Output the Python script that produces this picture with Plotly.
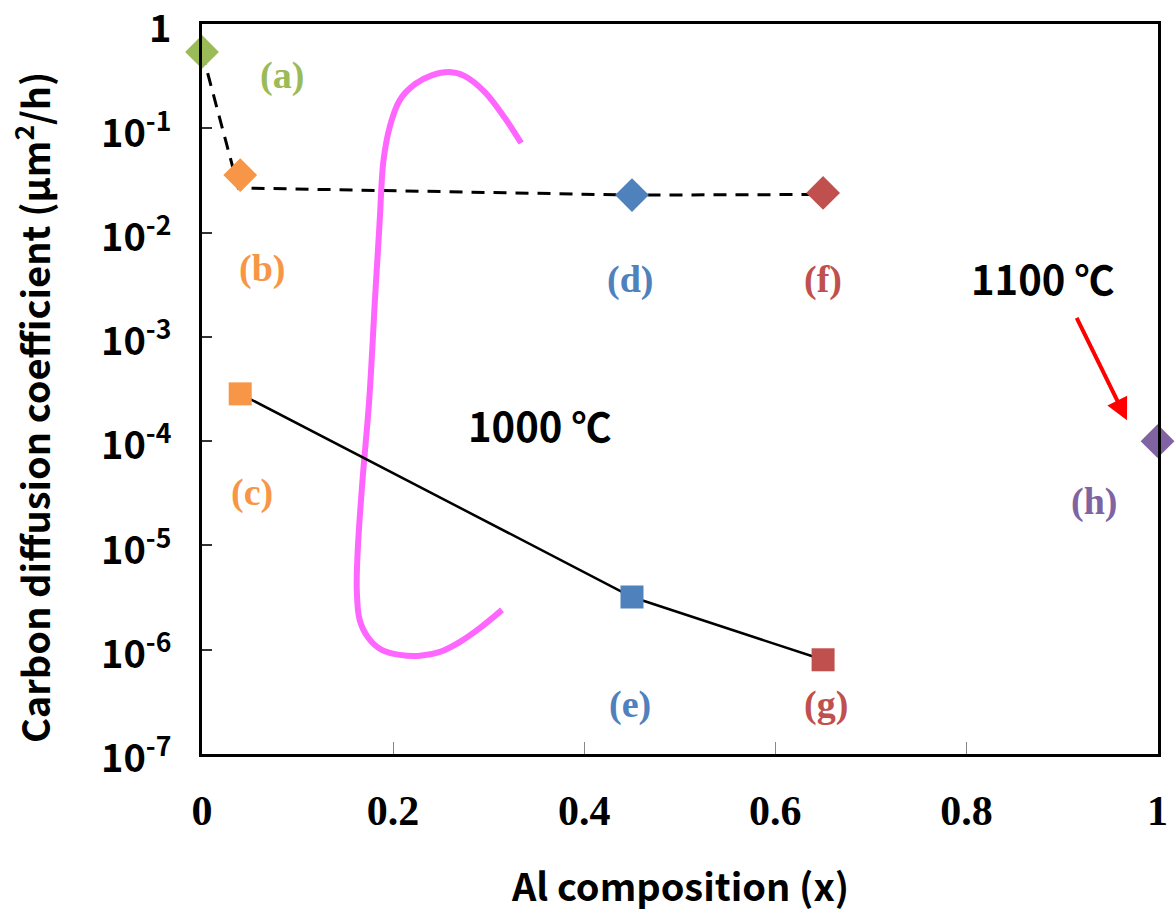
import plotly.graph_objects as go

# ---------------- data ----------------
# diamond markers (1000 C series a,b,d,f and 1100 C point h), carbon diffusion coefficient (um^2/h)
diamond_x = [0.0, 0.04, 0.45, 0.65, 1.0]
diamond_y = [0.54, 0.0356, 0.0229, 0.024, 1.0e-4]
diamond_colors = ["#9BBB59", "#F79646", "#4F81BD", "#C0504D", "#8064A2"]

# square markers (c, e, g)
square_x = [0.04, 0.45, 0.65]
square_y = [2.84e-4, 3.2e-6, 8.0e-7]
square_colors = ["#F79646", "#4F81BD", "#C0504D"]

# dashed guide line
dash_x = [0.0, 0.038, 0.45, 0.65]
dash_y = [0.54, 0.0268, 0.0229, 0.0232]

# solid guide line
solid_x = [0.04, 0.45, 0.65]
solid_y = [2.84e-4, 3.2e-6, 8.0e-7]

# pink bracket (hand drawn)
pink_x = [0.334, 0.317, 0.296, 0.275, 0.259, 0.241, 0.223, 0.207, 0.197, 0.190,
          0.186, 0.181, 0.175, 0.168, 0.163, 0.162, 0.165, 0.174, 0.188, 0.207,
          0.228, 0.249, 0.270, 0.291, 0.314]
pink_y = [0.0723, 0.1256, 0.2228, 0.317, 0.347, 0.324, 0.266, 0.1866, 0.1076, 0.0497,
          0.01321, 0.00226, 2.48e-4, 4.25e-5, 9.06e-6, 3.74e-6, 1.93e-6, 1.30e-6, 9.95e-7, 8.91e-7,
          8.73e-7, 9.53e-7, 1.19e-6, 1.62e-6, 2.41e-6]

x_tickvals = [0, 0.2, 0.4, 0.6, 0.8, 1]
x_ticktext = ["0", "0.2", "0.4", "0.6", "0.8", "1"]
y_tickvals = [1, 1e-1, 1e-2, 1e-3, 1e-4, 1e-5, 1e-6, 1e-7]
y_ticktext = ["1", "10<sup>-1</sup>", "10<sup>-2</sup>", "10<sup>-3</sup>",
              "10<sup>-4</sup>", "10<sup>-5</sup>", "10<sup>-6</sup>", "10<sup>-7</sup>"]

# point labels: text, x, log10(y) of label position, colour
point_labels = [
    ("(a)", 0.084, -0.49, "#9BBB59"),
    ("(b)", 0.063, -2.34, "#F79646"),
    ("(c)", 0.052, -4.49, "#F79646"),
    ("(d)", 0.448, -2.45, "#4F81BD"),
    ("(e)", 0.448, -6.53, "#4F81BD"),
    ("(f)", 0.650, -2.45, "#C0504D"),
    ("(g)", 0.653, -6.53, "#C0504D"),
    ("(h)", 0.934, -4.58, "#8064A2"),
]

SANS = "Noto Sans CJK KR"
SERIF = "Liberation Serif"

fig = go.Figure()

fig.add_trace(go.Scatter(x=dash_x, y=dash_y, mode="lines",
                         line=dict(color="black", width=3, dash="13px,9px"),
                         showlegend=False, hoverinfo="skip"))
fig.add_trace(go.Scatter(x=pink_x, y=pink_y, mode="lines",
                         line=dict(color="#FF66FF", width=6, shape="spline", smoothing=1.0),
                         showlegend=False, hoverinfo="skip"))
fig.add_trace(go.Scatter(x=solid_x, y=solid_y, mode="lines",
                         line=dict(color="black", width=2.5),
                         showlegend=False, hoverinfo="skip"))
fig.add_trace(go.Scatter(x=diamond_x, y=diamond_y, mode="markers",
                         marker=dict(symbol="diamond", size=26, color=diamond_colors,
                                     line=dict(width=0)),
                         showlegend=False, cliponaxis=False))
fig.add_trace(go.Scatter(x=square_x, y=square_y, mode="markers",
                         marker=dict(symbol="square", size=23, color=square_colors,
                                     line=dict(width=0)),
                         showlegend=False, cliponaxis=False))

annotations = []
for txt, lx, ly, col in point_labels:
    annotations.append(dict(x=lx, y=ly, xref="x", yref="y", text="<b>%s</b>" % txt,
                            showarrow=False, font=dict(family=SERIF, size=38, color=col),
                            xanchor="center", yanchor="middle"))

annotations.append(dict(x=0.3536, y=-3.845, xref="x", yref="y", text="<b>1000 ℃</b>",
                        showarrow=False, font=dict(family=SANS, size=40, color="black"),
                        xanchor="center", yanchor="middle"))
annotations.append(dict(x=0.88, y=-2.435, xref="x", yref="y", text="<b>1100 ℃</b>",
                        showarrow=False, font=dict(family=SANS, size=40, color="black"),
                        xanchor="center", yanchor="middle"))
# red arrow
annotations.append(dict(x=0.968, y=-3.80, xref="x", yref="y", ax=-51, ay=-104,
                        axref="pixel", ayref="pixel", text="", showarrow=True,
                        arrowhead=2, arrowsize=1.1, arrowwidth=4, arrowcolor="#FF0000"))
# axis titles
annotations.append(dict(x=0.5, y=-0.179, xref="paper", yref="paper",
                        text="<b>Al composition (x)</b>", showarrow=False,
                        font=dict(family=SANS, size=38, color="black"),
                        xanchor="center", yanchor="middle"))
annotations.append(dict(x=-0.178, y=0.475, xref="paper", yref="paper", textangle=-90,
                        text="<b>Carbon diffusion coefficient (μm<sup>2</sup>/h)</b>",
                        showarrow=False, font=dict(family=SANS, size=38, color="black"),
                        xanchor="center", yanchor="middle"))

fig.update_layout(
    width=1176, height=914,
    margin=dict(l=202, r=18, t=24, b=160, autoexpand=False),
    paper_bgcolor="white", plot_bgcolor="white",
    annotations=annotations,
    showlegend=False,
)
fig.update_xaxes(range=[0, 1.0005], tickvals=x_tickvals, ticktext=x_ticktext,
                 showgrid=False, zeroline=False, automargin=False,
                 showline=True, linecolor="black", linewidth=3, mirror=True,
                 ticks="inside", ticklen=12, tickwidth=1.2, tickcolor="#888",
                 tickfont=dict(family=SERIF, size=42, color="black", weight="bold"),
                 ticklabelstandoff=18, ticklabeloverflow="allow")
fig.update_yaxes(type="log", range=[-7.0005, 0.0005], tickvals=y_tickvals, ticktext=y_ticktext,
                 showgrid=False, zeroline=False, automargin=False,
                 showline=True, linecolor="black", linewidth=3, mirror=True,
                 ticks="inside", ticklen=10, tickwidth=1.5, tickcolor="#333",
                 tickfont=dict(family=SANS, size=38, color="black", weight="bold"),
                 ticklabelstandoff=20, ticklabelshift=5, ticklabeloverflow="allow")

fig.write_html("out.html")
